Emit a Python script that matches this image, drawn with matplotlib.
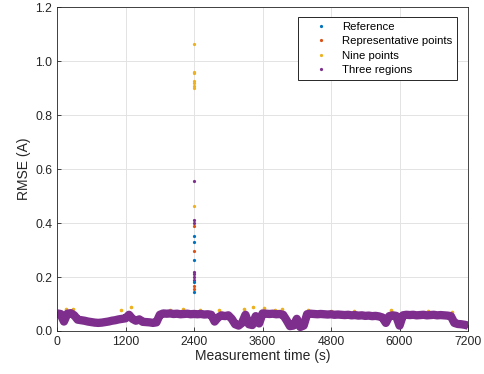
import numpy as np
import matplotlib
matplotlib.use('Agg')
import matplotlib.pyplot as plt

time_s = np.arange(0, 7201, 60)
rmse_base = [0.065, 0.063, 0.035, 0.064, 0.066, 0.058, 0.042, 0.040, 0.038, 0.035,
             0.033, 0.031, 0.030, 0.031, 0.033, 0.035, 0.038, 0.040, 0.043, 0.045,
             0.047, 0.060, 0.045, 0.038, 0.043, 0.034, 0.033, 0.032, 0.030, 0.032,
             0.060, 0.065, 0.064, 0.065, 0.063, 0.064, 0.062, 0.063, 0.064, 0.062,
             0.063, 0.062, 0.063, 0.061, 0.062, 0.060, 0.035, 0.050, 0.058, 0.055,
             0.058, 0.045, 0.025, 0.020, 0.030, 0.060, 0.025, 0.022, 0.055, 0.028,
             0.065, 0.064, 0.063, 0.064, 0.062, 0.063, 0.060, 0.040, 0.018, 0.020,
             0.045, 0.015, 0.020, 0.062, 0.064, 0.063, 0.062, 0.063, 0.062, 0.061,
             0.062, 0.060, 0.061, 0.060, 0.059, 0.060, 0.058, 0.059, 0.057, 0.058,
             0.056, 0.057, 0.055, 0.056, 0.054, 0.050, 0.030, 0.055, 0.058, 0.056,
             0.020, 0.058, 0.060, 0.059, 0.060, 0.058, 0.059, 0.060, 0.058, 0.059,
             0.060, 0.058, 0.059, 0.058, 0.057, 0.055, 0.030, 0.026, 0.025, 0.023,
             0.020]

# spike at t = 2400 s
spike_t = 2400
ref_spike = [0.352, 0.328, 0.263, 0.18, 0.145]
rep_spike = [0.39, 0.296, 0.165, 0.155]
nine_spike = [1.063, 0.96, 0.955, 0.927, 0.92, 0.908, 0.899, 0.464]
three_spike = [0.556, 0.41, 0.40, 0.22, 0.21, 0.20, 0.19]

# nine-points values that stick out above the band
nine_extra_t = [150, 280, 1120, 1290, 1980, 2210, 2500, 2830, 3270, 3440,
                3620, 3820, 3940, 4400, 4800, 5200, 5850, 6500, 6920]
nine_extra = [0.080, 0.082, 0.078, 0.090, 0.078, 0.080, 0.078, 0.077, 0.080, 0.088,
              0.085, 0.078, 0.080, 0.078, 0.075, 0.074, 0.076, 0.074, 0.072]

labels = ['Reference', 'Representative points', 'Nine points', 'Three regions']
colors = ['#0072BD', '#D95319', '#EDB120', '#7E2F8E']

plt.rcParams['font.family'] = ['Liberation Sans', 'DejaVu Sans']

fig = plt.figure(figsize=(4.84, 3.74), dpi=100)
ax = fig.add_axes([0.118, 0.115, 0.849, 0.866])

ms = 2.6
# hidden series under the band
for k in range(3):
    ax.plot(time_s, rmse_base, '.', ms=ms, color=colors[k], label=labels[k])
ax.plot(nine_extra_t, nine_extra, '.', ms=ms + 0.6, color=colors[2])
# three regions band
ax.plot(time_s, rmse_base, '-', lw=6, color=colors[3], solid_joinstyle='round',
        solid_capstyle='butt')
ax.plot(time_s, rmse_base, '.', ms=ms, color=colors[3], label=labels[3])

ax.plot([spike_t] * len(three_spike), three_spike, '.', ms=ms, color=colors[3])
ax.plot([spike_t] * len(nine_spike), nine_spike, '.', ms=ms, color=colors[2])
ax.plot([spike_t] * len(rep_spike), rep_spike, '.', ms=ms, color=colors[1])
ax.plot([spike_t] * len(ref_spike), ref_spike, '.', ms=ms, color=colors[0])

ax.set_xlim(0, 7200)
ax.set_ylim(0, 1.2)
ax.set_xticks(np.arange(0, 7201, 1200))
ax.set_yticks(np.arange(0, 1.21, 0.2))
ax.set_yticklabels(['%.1f' % v for v in np.arange(0, 1.21, 0.2)])
ax.grid(True, color='#e3e3e3', lw=0.7)
ax.set_axisbelow(True)
ax.tick_params(direction='in', labelsize=8.8, colors='#262626', length=3, width=0.6)
for s in ax.spines.values():
    s.set_color('#262626')
    s.set_linewidth(0.6)

ax.set_xlabel('Measurement time (s)', fontsize=10, color='#262626', labelpad=1)
ax.set_ylabel('RMSE (A)', fontsize=10, color='#262626', labelpad=3)

leg = ax.legend(loc='upper right', bbox_to_anchor=(0.973, 0.969), borderaxespad=0,
                fontsize=8.2, fancybox=False, framealpha=1, edgecolor='#262626',
                handlelength=3.2, handletextpad=0.25, labelspacing=0.4, markerscale=1.0,
                borderpad=0.4)
leg.get_frame().set_linewidth(0.7)

fig.savefig('out.png', dpi=100)
